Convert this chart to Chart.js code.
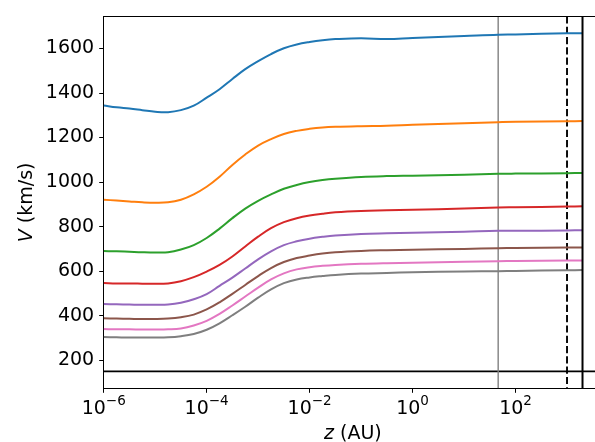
<!DOCTYPE html>
<html>
<head>
<meta charset="utf-8">
<script src="https://cdn.jsdelivr.net/npm/chart.js@4"></script>
<style>
  html, body { margin: 0; padding: 0; background: #fff; width: 595px; height: 442px; overflow: hidden; }
  #wrap { width: 620px; height: 442px; }
</style>
</head>
<body>
<div id="wrap"><canvas id="c" width="620" height="442" style="width:620px;height:442px"></canvas></div>
<script>
// ---- data ----
const zValues = [1e-6, 1.78e-6, 3.16e-6, 5.62e-6, 1e-5, 1.78e-5, 3.16e-5, 5.62e-5, 1e-4, 1.78e-4, 3.16e-4, 5.62e-4, 1e-3, 1.78e-3, 3.16e-3, 5.62e-3, 1e-2, 1.78e-2, 3.16e-2, 0.1, 0.316, 1, 10, 46, 100, 1000, 2000];
const vBlue   = [1344,1336,1330,1323,1316,1314,1323,1343,1379,1417,1463,1507,1543,1575,1601,1618,1629,1637,1642,1646,1642,1647,1656,1662,1663,1668,1668];
const vOrange = [921,917,913,909,907,909,921,945,979,1024,1077,1124,1164,1193,1216,1230,1239,1245,1248,1251,1253,1257,1264,1269,1271,1273,1274];
const vGreen  = [690,689,687,685,684,685,697,717,749,791,838,881,916,945,970,987,1000,1009,1015,1023,1027,1029,1033,1037,1038,1040,1041];
const vRed    = [547,545,545,544,543,545,555,573,598,628,666,711,755,793,820,838,850,858,864,870,873,876,881,886,887,890,891];
const vPurple = [452,451,450,449,449,450,458,474,497,534,571,612,653,689,717,734,746,754,760,767,770,772,777,781,781,783,784];
const vBrown  = [388,387,386,385,385,387,393,405,428,460,498,538,578,614,641,659,670,679,685,691,694,696,700,703,704,706,706];
const vPink   = [340,339,339,338,338,339,343,356,377,408,446,486,526,563,590,608,618,624,628,633,636,638,642,645,646,648,648];
const vGray   = [304,303,302,302,302,303,308,318,337,366,402,440,481,518,546,563,572,578,583,589,592,595,599,600,601,604,605];
const seriesList = [vBlue, vOrange, vGreen, vRed, vPurple, vBrown, vPink, vGray];
const seriesColors = ['#1f77b4','#ff7f0e','#2ca02c','#d62728','#9467bd','#8c564b','#e377c2','#7f7f7f'];

const xTickExponents = [-6, -4, -2, 0, 2];
const yTickValues = [200, 400, 600, 800, 1000, 1200, 1400, 1600];
const xMin = 1e-6, xMax = 5000;
const yMin = 74, yMax = 1744;

const hLineValue = 150;
const vLineGray = 46;
const vLineDashed = 1000;
const vLineSolid = 2000;

const xTitleItalic = 'z', xTitleRest = ' (AU)';
const yTitleItalic = 'V', yTitleRest = ' (km/s)';

// ---- chart ----
const FONT = 'DejaVu Sans';
const FS = 19;

const datasets = seriesList.map((vals, i) => ({
  data: zValues.map((z, k) => ({ x: z, y: vals[k] })),
  borderColor: seriesColors[i],
  backgroundColor: seriesColors[i],
  borderWidth: 2,
  pointRadius: 0,
  fill: false,
  tension: 0.4
}));

const refPlugin = {
  id: 'refLines',
  beforeDatasetsDraw(chart) {
    const { ctx, chartArea: a, scales: { x, y } } = chart;
    ctx.save();
    ctx.beginPath();
    ctx.rect(a.left, a.top, a.right - a.left, a.bottom - a.top);
    ctx.clip();
    const hy = y.getPixelForValue(hLineValue);
    ctx.strokeStyle = '#000'; ctx.lineWidth = 1.9; ctx.setLineDash([]);
    ctx.beginPath(); ctx.moveTo(a.left, hy); ctx.lineTo(a.right, hy); ctx.stroke();
    let px = x.getPixelForValue(vLineGray);
    ctx.strokeStyle = '#808080'; ctx.lineWidth = 1.4;
    ctx.beginPath(); ctx.moveTo(px, a.top); ctx.lineTo(px, a.bottom); ctx.stroke();
    px = x.getPixelForValue(vLineDashed);
    ctx.strokeStyle = '#000'; ctx.lineWidth = 1.9; ctx.setLineDash([7.2, 3.1]);
    ctx.beginPath(); ctx.moveTo(px, a.top); ctx.lineTo(px, a.bottom); ctx.stroke();
    ctx.setLineDash([]);
    ctx.restore();
  },
  afterDatasetsDraw(chart) {
    const { ctx, chartArea: a, scales: { x } } = chart;
    ctx.save();
    const px = x.getPixelForValue(vLineSolid);
    ctx.strokeStyle = '#000'; ctx.lineWidth = 2;
    ctx.beginPath(); ctx.moveTo(px, a.top); ctx.lineTo(px, a.bottom); ctx.stroke();
    ctx.restore();
  },
  afterDraw(chart) {
    const { ctx, chartArea: a, scales: { x } } = chart;
    ctx.save();
    ctx.strokeStyle = '#000'; ctx.lineWidth = 1;
    ctx.beginPath(); ctx.moveTo(a.left - 0.5, Math.round(a.top) + 0.5); ctx.lineTo(a.right, Math.round(a.top) + 0.5); ctx.stroke();
    ctx.fillStyle = '#000';
    ctx.textBaseline = 'alphabetic';
    ctx.textAlign = 'left';
    const mainFont = FS + 'px "' + FONT + '"';
    const supFont = (FS * 0.71).toFixed(1) + 'px "' + FONT + '"';
    xTickExponents.forEach(e => {
      const p = x.getPixelForValue(Math.pow(10, e));
      const sup = e < 0 ? '\u2212' + (-e) : String(e);
      ctx.font = mainFont; const wm = ctx.measureText('10').width;
      ctx.font = supFont; const ws = ctx.measureText(sup).width;
      const start = p - (wm + ws) / 2;
      ctx.font = mainFont; ctx.fillText('10', start, 414);
      ctx.font = supFont; ctx.fillText(sup, start + wm, 405);
    });
    const itFont = 'italic ' + FS + 'px "' + FONT + '"';
    ctx.font = itFont; const wi = ctx.measureText(xTitleItalic).width;
    ctx.font = mainFont; const wr = ctx.measureText(xTitleRest).width;
    const cx = (a.left + 602) / 2;
    let sx = cx - (wi + wr) / 2;
    ctx.font = itFont; ctx.fillText(xTitleItalic, sx, 439);
    ctx.font = mainFont; ctx.fillText(xTitleRest, sx + wi, 439);
    ctx.font = itFont; const wyi = ctx.measureText(yTitleItalic).width;
    ctx.font = mainFont; const wyr = ctx.measureText(yTitleRest).width;
    ctx.translate(32, (a.top + a.bottom) / 2);
    ctx.rotate(-Math.PI / 2);
    sx = -(wyi + wyr) / 2;
    ctx.font = itFont; ctx.fillText(yTitleItalic, sx, 0);
    ctx.font = mainFont; ctx.fillText(yTitleRest, sx + wyi, 0);
    ctx.restore();
  }
};

new Chart(document.getElementById('c'), {
  type: 'line',
  data: { datasets },
  plugins: [refPlugin],
  options: {
    responsive: false,
    animation: false,
    devicePixelRatio: 1,
    layout: { padding: { top: 14.7, left: 0, right: 620 - 603, bottom: 0 } },
    plugins: { legend: { display: false }, tooltip: { enabled: false } },
    scales: {
      x: {
        type: 'logarithmic',
        min: xMin, max: xMax,
        afterBuildTicks: s => { s.ticks = xTickExponents.map(e => ({ value: Math.pow(10, e) })); },
        afterFit: s => { s.height = 442 - 388.3; },
        ticks: { display: false },
        grid: { drawOnChartArea: false, drawTicks: true, tickLength: 4.5, tickColor: '#000', tickWidth: 1 },
        border: { display: true, color: '#000', width: 1 }
      },
      y: {
        type: 'linear',
        min: yMin, max: yMax,
        afterBuildTicks: s => { s.ticks = yTickValues.map(v => ({ value: v })); },
        afterFit: s => { s.width = 103.7; },
        ticks: { color: '#000', padding: 5, font: { family: FONT, size: FS }, callback: v => String(v) },
        grid: { drawOnChartArea: false, drawTicks: true, tickLength: 4.5, tickColor: '#000', tickWidth: 1 },
        border: { display: true, color: '#000', width: 1 }
      }
    }
  }
});
</script>
</body>
</html>
